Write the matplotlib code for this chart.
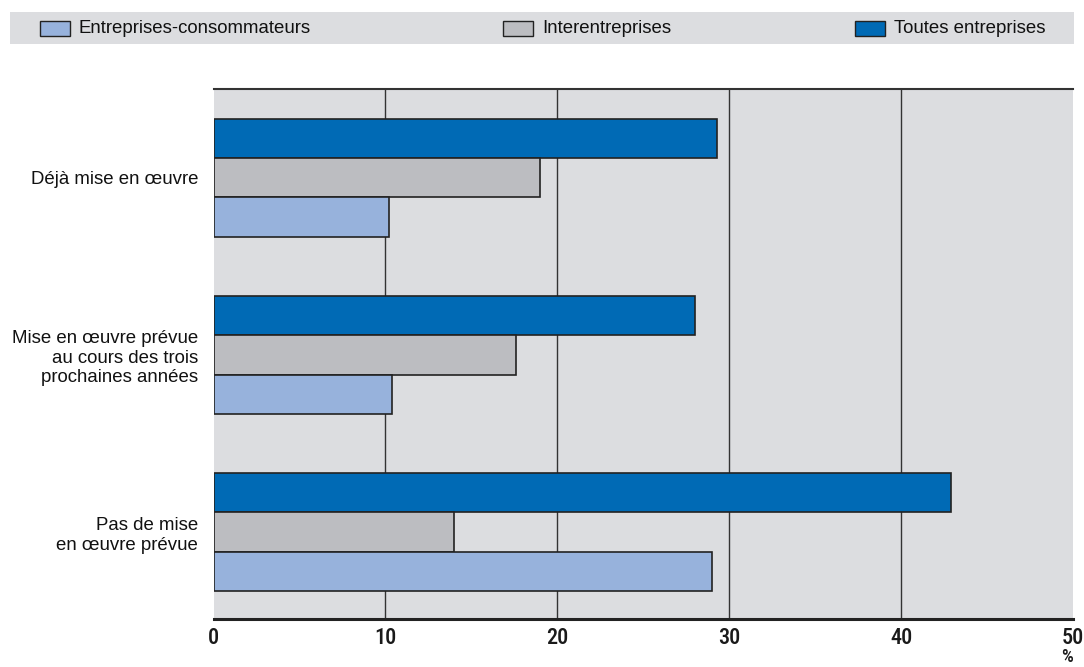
import matplotlib
matplotlib.use("Agg")
import matplotlib.pyplot as plt
from matplotlib.patches import Rectangle
from matplotlib import font_manager
from matplotlib.transforms import ScaledTranslation
import numpy as np

# Data
categories = ["Déjà mise en œuvre",
              "Mise en œuvre prévue\nau cours des trois\nprochaines années",
              "Pas de mise\nen œuvre prévue"]
series_names = ["Toutes entreprises", "Interentreprises", "Entreprises-consommateurs"]
toutes = [29.3, 28.0, 42.9]
inter = [19.0, 17.6, 14.0]
b2c = [10.2, 10.4, 29.0]
x_ticks = [0, 10, 20, 30, 40, 50]

colors = {"Toutes entreprises": "#006ab5",
          "Interentreprises": "#bcbdc1",
          "Entreprises-consommateurs": "#97b2dc"}
bg = "#dcdde0"
edge = "#222222"

plt.rcParams["font.family"] = ["Liberation Sans", "DejaVu Sans"]


def condensed_face(size):
    """Pick a condensed/narrow face for the axis numbers if one is installed."""
    cands = []
    for f in font_manager.fontManager.ttflist:
        nm = (f.name + " " + f.fname).lower()
        if ("narrow" in nm or "condensed" in nm or f.stretch in ("condensed", "semi-condensed")):
            fn = f.fname.lower()
            score = 0
            if "liberation" in nm:
                score += 3
            if "medium" in fn or "semibold" in fn:
                score += 3
            elif "bold" in fn and "extra" not in fn:
                score += 2
            if "italic" in fn or "oblique" in fn or "light" in fn or "thin" in fn:
                score -= 10
            cands.append((score, f.fname))
    if cands:
        cands.sort(reverse=True)
        return font_manager.FontProperties(fname=cands[0][1], size=size)
    return font_manager.FontProperties(family="Liberation Sans", weight="bold", size=size - 4)


num_font = condensed_face(16)
pct_font = condensed_face(13.5)
label_size = 13.4

fig = plt.figure(figsize=(10.84, 6.67), dpi=100)
ax = fig.add_axes([213.5 / 1084, 1 - 619 / 667, (1073 - 213.5) / 1084, (619 - 89) / 667])
ax.set_facecolor(bg)

y = np.arange(len(categories))
h = 0.222
for vals, name, off in [(toutes, series_names[0], -h),
                        (inter, series_names[1], 0.0),
                        (b2c, series_names[2], h)]:
    ax.barh(y + off, vals, height=h, color=colors[name], edgecolor=edge,
            linewidth=1.2, zorder=3)

ax.set_xlim(0, 50)
ax.set_ylim(2.49, -0.5)
ax.set_xticks(x_ticks)
ax.set_xticklabels([str(t) for t in x_ticks])
for lbl in ax.get_xticklabels():
    lbl.set_fontproperties(num_font)
    lbl.set_color("#1a1a1a")
last = ax.get_xticklabels()[-1]
last.set_transform(last.get_transform() + ScaledTranslation(-6 / 100, 0, fig.dpi_scale_trans))
ax.tick_params(axis="x", length=0, pad=6)
ax.set_yticks(y)
ax.set_yticklabels(categories, fontsize=label_size, ha="right", multialignment="right",
                   color="#111111")
ax.tick_params(axis="y", length=0, pad=11)
for t in x_ticks[1:-1]:
    ax.axvline(t, color="#333333", linewidth=1.0, zorder=1)
for s in ["left", "right"]:
    ax.spines[s].set_visible(False)
ax.spines["top"].set_color("#333333")
ax.spines["top"].set_linewidth(1.5)
ax.spines["bottom"].set_color("#222222")
ax.spines["bottom"].set_linewidth(2.2)

fig.text(1067 / 1084, 1 - 666 / 667, "%", fontproperties=pct_font,
         ha="center", va="bottom", color="#1a1a1a")

# Legend band
fig.add_artist(Rectangle((10 / 1084, 1 - 44 / 667), (1074 - 10) / 1084, 32 / 667,
                         transform=fig.transFigure, facecolor=bg, edgecolor="none"))
legend_items = [("Entreprises-consommateurs", 40), ("Interentreprises", 503),
                ("Toutes entreprises", 855)]
for name, px in legend_items:
    fig.add_artist(Rectangle((px / 1084, 1 - 36 / 667), 30 / 1084, 15 / 667,
                             transform=fig.transFigure, facecolor=colors[name],
                             edgecolor=edge, linewidth=1.0))
    fig.text((px + 39) / 1084, 1 - 28.5 / 667, name, fontsize=label_size,
             ha="left", va="center", color="#111111")

fig.savefig("out.png", dpi=100)
